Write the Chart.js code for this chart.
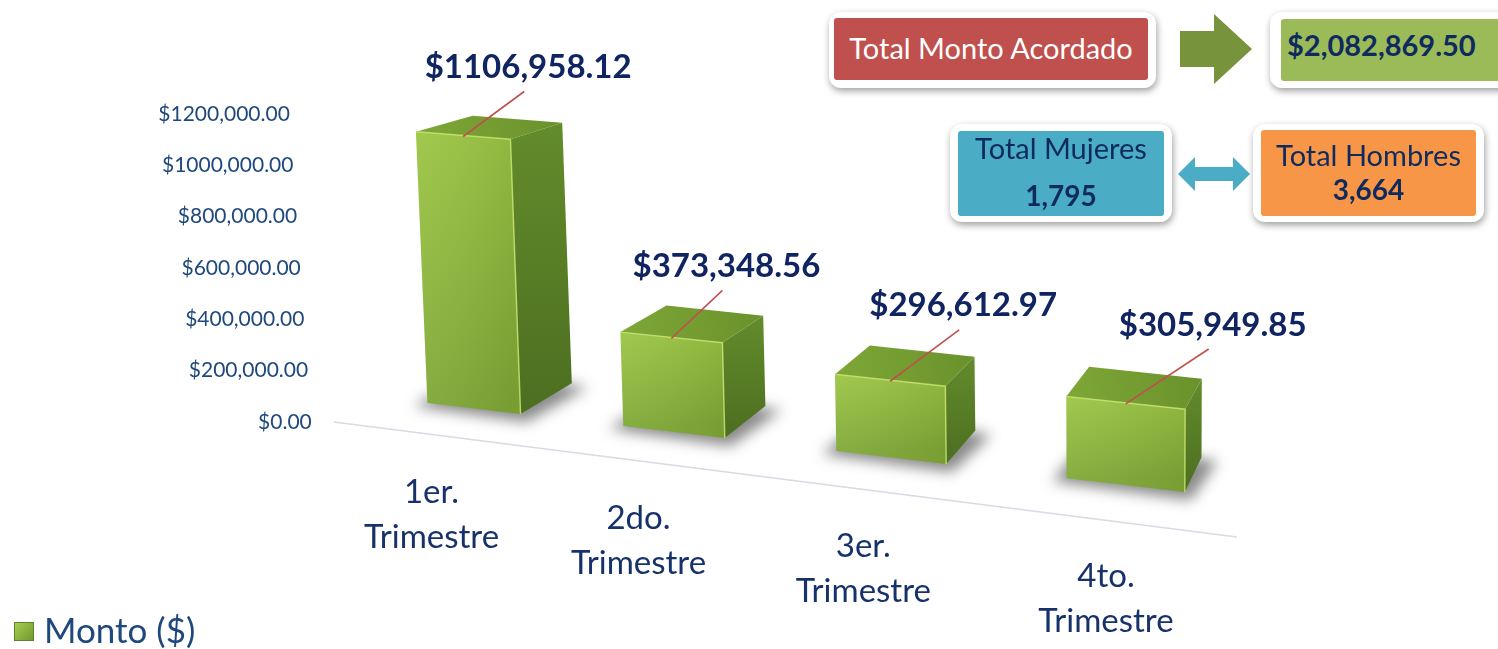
<!DOCTYPE html>
<html>
<head>
<meta charset="utf-8">
<script src="https://cdn.jsdelivr.net/npm/chart.js@4.4.1/dist/chart.umd.min.js"></script>
<style>
  body { margin: 0; background: #fff; width: 1498px; height: 649px; overflow: hidden; position: relative; font-family: Lato, sans-serif; }
  #chart { position: absolute; left: 0; top: 0; }
  .card { position: absolute; background: #fff; border-radius: 12px; box-shadow: 1px 3px 7px rgba(0,0,0,0.38); }
  .inner { position: absolute; border-radius: 3px; color: #0f2a5e; }
  .line { position: absolute; left: 0; right: 0; text-align: center; line-height: 34px; white-space: nowrap; }
  svg { position: absolute; left: 0; top: 0; }
</style>
</head>
<body>
<canvas id="chart" width="1498" height="649"></canvas>

<svg width="1498" height="649">
  <polygon points="1180,31 1214,31 1214,14 1252,49 1214,84 1214,67 1180,67" fill="#77933c"/>
  <polygon points="1178,174 1195,157 1195,167 1233,167 1233,157 1250,174 1233,191 1233,181 1195,181 1195,191" fill="#4bacc6"/>
</svg>

<div class="card" style="left:829px;top:12px;width:327px;height:76px">
  <div class="inner" style="left:5px;top:6px;width:314px;height:62px;background:#c0504d;color:#fff;font-size:29px;line-height:60px;text-align:center">Total Monto Acordado</div>
</div>
<div class="card" style="left:1270px;top:12px;width:250px;height:76px">
  <div class="inner" style="left:11px;top:7px;width:240px;height:62px;background:#9bbb59;font-size:29px;font-weight:bold;line-height:52px;padding-left:6px;box-sizing:border-box">$2,082,869.50</div>
</div>
<div class="card" style="left:950px;top:124px;width:222px;height:98px">
  <div class="inner" style="left:8px;top:7px;width:206px;height:85px;background:#4bacc6">
    <div class="line" style="top:0;font-size:29px">Total Mujeres</div>
    <div class="line" style="top:47px;font-size:28px;font-weight:bold">1,795</div>
  </div>
</div>
<div class="card" style="left:1253px;top:124px;width:231px;height:98px">
  <div class="inner" style="left:8px;top:6px;width:215px;height:86px;background:#f79646">
    <div class="line" style="top:8px;font-size:29px">Total Hombres</div>
    <div class="line" style="top:42px;font-size:28px;font-weight:bold">3,664</div>
  </div>
</div>

<script>
const categories = [['1er.', 'Trimestre'], ['2do.', 'Trimestre'], ['3er.', 'Trimestre'], ['4to.', 'Trimestre']];
const montos = [1106958.12, 373348.56, 296612.97, 305949.85];
const yTicks = [0, 200000, 400000, 600000, 800000, 1000000, 1200000];
const seriesName = 'Monto ($)';

// callout offsets (layout only)
const calloutDx = [61, 51, 69, 83];

// fake 3d: perspective of the front plane + vanishing point for depth
const persp = 0.000235, vertVX = 1125, vertVD = 16400, floorSlope = 0.1174, floorDrop = -13.5;
const depthVP = [1506, -178], depthK = 0.052;

function money(v) {
  const cents = Math.round(v * 100);
  const whole = Math.floor(cents / 100);
  const frac = String(cents % 100).padStart(2, '0');
  if (whole < 1000) return '$' + whole + '.' + frac;
  return '$' + Math.floor(whole / 1000) + ',' + String(whole % 1000).padStart(3, '0') + '.' + frac;
}

function project(chart, xf, value) {
  const xs = chart.scales.x, ys = chart.scales.y;
  const c0 = xs.getPixelForValue(0);
  const y0 = ys.getPixelForValue(0);
  const h0 = y0 - ys.getPixelForValue(value);
  const xb = c0 + (xf - c0) * (1 + persp * (xf - c0));
  const m = 0.955 + 0.00013 * (xb - c0 + 46.5);
  const h = h0 * m;
  const x = xb - (vertVX - xb) * h / vertVD;
  const y = y0 + floorDrop + floorSlope * (xb - c0) - h;
  return [x, y];
}

function back(p) {
  return [p[0] + depthK * (depthVP[0] - p[0]), p[1] + depthK * (depthVP[1] - p[1])];
}

function poly(ctx, pts) {
  ctx.beginPath();
  ctx.moveTo(pts[0][0], pts[0][1]);
  for (let i = 1; i < pts.length; i++) ctx.lineTo(pts[i][0], pts[i][1]);
  ctx.closePath();
}

const bars3d = {
  id: 'bars3d',
  beforeDatasetDraw() { return false; },
  afterDatasetsDraw(chart) {
    const ctx = chart.ctx;
    const ys = chart.scales.y;
    const area = chart.chartArea;
    const y0 = ys.getPixelForValue(0);
    const meta = chart.getDatasetMeta(0);
    const values = chart.data.datasets[0].data;

    // floor line
    ctx.save();
    ctx.strokeStyle = '#d6dbe4';
    ctx.lineWidth = 1.5;
    ctx.beginPath();
    ctx.moveTo(area.left - 44, y0);
    ctx.lineTo(area.left - 44 + 903, y0 + 0.1274 * 903);
    ctx.stroke();
    ctx.restore();

    // y tick labels (skewed with the plane)
    ctx.save();
    ctx.font = '21px Lato';
    ctx.fillStyle = '#1f497d';
    ctx.textAlign = 'right';
    ctx.textBaseline = 'middle';
    yTicks.forEach(t => {
      const y = ys.getPixelForValue(t);
      ctx.fillText(money(t), area.left - 66 - 0.0714 * (y0 - y), y);
    });
    ctx.restore();

    const boxes = meta.data.map((bar, i) => {
      const p = bar.getProps(['x', 'width'], true);
      const xl = p.x - p.width / 2, xr = p.x + p.width / 2;
      const v = values[i];
      const ftl = project(chart, xl, v), ftr = project(chart, xr, v);
      const fbr = project(chart, xr, 0), fbl = project(chart, xl, 0);
      return { ftl, ftr, fbr, fbl, btl: back(ftl), btr: back(ftr), bbr: back(fbr), bbl: back(fbl), bottom: project(chart, p.x, 0) };
    });

    // shadows
    boxes.forEach(b => {
      ctx.save();
      ctx.filter = 'blur(7px)';
      ctx.fillStyle = 'rgba(40,40,40,0.55)';
      poly(ctx, [[b.fbl[0] - 14, b.fbl[1] + 3], [b.fbr[0] + 6, b.fbr[1] + 8], [b.bbr[0] + 16, b.bbr[1] + 4], [b.bbl[0] - 4, b.bbl[1] - 2]]);
      ctx.fill();
      ctx.restore();
    });

    boxes.forEach(b => {
      ctx.save();
      // top face
      let g = ctx.createLinearGradient(b.ftl[0], b.ftl[1], b.btr[0], b.btr[1]);
      g.addColorStop(0, '#7ea737');
      g.addColorStop(1, '#6a922c');
      poly(ctx, [b.ftl, b.btl, b.btr, b.ftr]);
      ctx.fillStyle = g;
      ctx.fill();
      // right face
      g = ctx.createLinearGradient(0, b.btr[1], 0, b.fbr[1]);
      g.addColorStop(0, '#638c2b');
      g.addColorStop(1, '#4c6e21');
      poly(ctx, [b.ftr, b.btr, b.bbr, b.fbr]);
      ctx.fillStyle = g;
      ctx.fill();
      // front face
      g = ctx.createLinearGradient(0, b.ftl[1], 0, b.fbl[1]);
      g.addColorStop(0, '#9cc644');
      g.addColorStop(1, '#80a937');
      poly(ctx, [b.ftl, b.ftr, b.fbr, b.fbl]);
      ctx.fillStyle = g;
      ctx.fill();
      g = ctx.createLinearGradient(b.ftl[0], 0, b.ftr[0], 0);
      g.addColorStop(0, 'rgba(255,255,255,0.05)');
      g.addColorStop(1, 'rgba(0,0,0,0.07)');
      ctx.fillStyle = g;
      ctx.fill();
      // bevel highlights
      ctx.lineWidth = 1.5;
      ctx.strokeStyle = 'rgba(196,226,110,0.85)';
      ctx.beginPath();
      ctx.moveTo(b.ftl[0], b.ftl[1]);
      ctx.lineTo(b.ftr[0], b.ftr[1]);
      ctx.lineTo(b.fbr[0], b.fbr[1]);
      ctx.stroke();
      ctx.restore();
    });

    // callouts
    boxes.forEach((b, i) => {
      const tc = [(b.ftl[0] + b.ftr[0]) / 2, (b.ftl[1] + b.ftr[1]) / 2 + 1];
      const start = [tc[0] + calloutDx[i], tc[1] - 45 - 0.015 * (tc[0] - 463)];
      ctx.save();
      ctx.strokeStyle = '#c0504d';
      ctx.lineWidth = 1.6;
      ctx.beginPath();
      ctx.moveTo(start[0], start[1]);
      ctx.lineTo(tc[0], tc[1]);
      ctx.stroke();
      ctx.font = 'bold 33px Lato';
      ctx.fillStyle = '#0f2460';
      ctx.textAlign = 'center';
      ctx.textBaseline = 'middle';
      ctx.fillText(money(values[i]), start[0] + 4, start[1] - 24);
      ctx.restore();
    });

    // category labels
    const c0 = chart.scales.x.getPixelForValue(0);
    ctx.save();
    ctx.font = '33px Lato';
    ctx.fillStyle = '#17326b';
    ctx.textAlign = 'center';
    ctx.textBaseline = 'middle';
    boxes.forEach((b, i) => {
      const ax = b.bottom[0], ay = b.bottom[1];
      const cx = ax - 42 + 0.035 * (ax - c0);
      const cy = ay + 84 + 0.012 * (ax - c0);
      chart.data.labels[i].forEach((line, j) => ctx.fillText(line, cx, cy + j * 45));
    });
    ctx.restore();

    // legend
    ctx.save();
    const lg = ctx.createLinearGradient(14, 622, 34, 641);
    lg.addColorStop(0, '#a9d152');
    lg.addColorStop(1, '#6d9630');
    ctx.fillStyle = lg;
    ctx.fillRect(14, 622, 20, 19);
    ctx.strokeStyle = '#5d8426';
    ctx.lineWidth = 1;
    ctx.strokeRect(14.5, 622.5, 19, 18);
    ctx.font = '35px Lato';
    ctx.fillStyle = '#1f497d';
    ctx.textBaseline = 'middle';
    ctx.fillText(chart.data.datasets[0].label, 44, 632);
    ctx.restore();
  }
};

Promise.all([
  document.fonts.load('21px Lato'),
  document.fonts.load('bold 33px Lato')
]).catch(() => {}).then(() => {
  new Chart(document.getElementById('chart'), {
    type: 'bar',
    data: {
      labels: categories,
      datasets: [{
        label: seriesName,
        data: montos,
        backgroundColor: '#8db53c',
        barPercentage: 0.7,
        categoryPercentage: 0.695
      }]
    },
    options: {
      responsive: false,
      animation: false,
      layout: { padding: { left: 0, right: 354.6, top: 114, bottom: 0 } },
      plugins: { legend: { display: false }, tooltip: { enabled: false } },
      scales: {
        x: {
          grid: { display: false },
          border: { display: false },
          ticks: { display: false },
          afterFit: s => { s.height = 227; }
        },
        y: {
          min: 0,
          max: 1200000,
          grid: { display: false },
          border: { display: false },
          ticks: { display: false, stepSize: 200000 },
          afterFit: s => { s.width = 377.8; }
        }
      }
    },
    plugins: [bars3d]
  });
});
</script>
</body>
</html>
